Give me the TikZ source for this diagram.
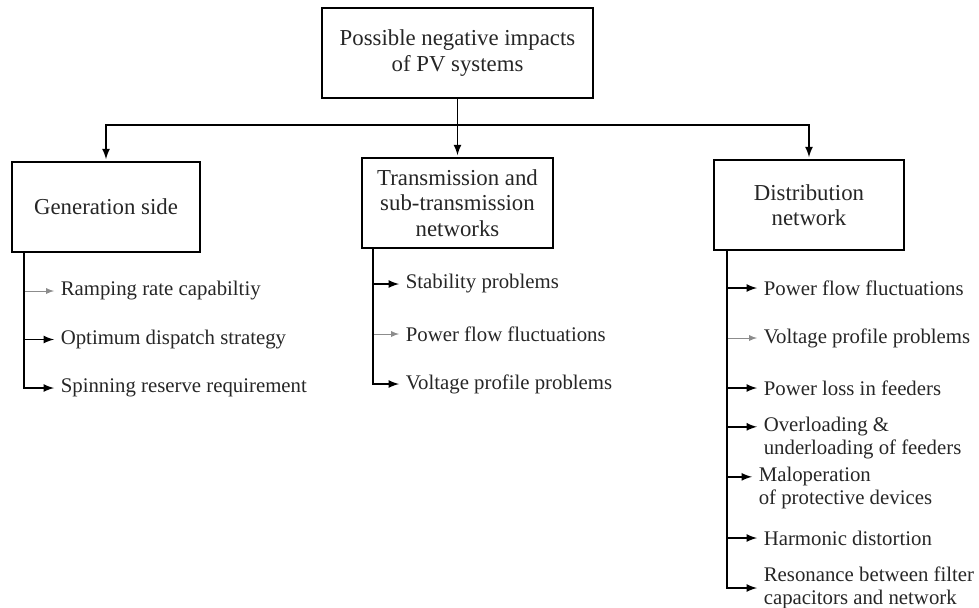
\documentclass[tikz,border=0pt]{standalone}
\usepackage{fontspec}
\setmainfont{Liberation Serif}
\usepackage{tikz}
\usetikzlibrary{positioning,calc}
\tikzstyle{impact} = [rectangle, draw, fill=white, align=center, inner sep=2pt, minimum height=45pt, font=\fontsize{11.4}{12.6}\selectfont]
\tikzstyle{effect} = [align=left, inner sep=2pt, font=\fontsize{10.4}{11.2}\selectfont]
\tikzstyle{faint} = [thin, black!45]

\begin{document}
\begin{tikzpicture}[x=0.5pt,y=-0.5pt,->,>=latex,shorten >=1pt,line width=0.8pt,node distance=25pt,text=black!85]
  \useasboundingbox (0,0) rectangle (979,607);
  \node[impact, minimum width=135.5pt] (PV) at (457.5,53) {Possible negative impacts\\of PV systems};
  \node[impact, minimum width=94pt] (Gen) at (106,207) {Generation side};
  \node[impact, minimum width=95.5pt] (Trans) at (457.5,203) {Transmission and\\sub-transmission\\networks};
  \node[impact, minimum width=95pt] (Dist) at (809,205) {Distribution\\network};
  \coordinate (bus) at ($(PV.south)+(0,26)$);

  % generation side
  \node[effect, anchor=west] (Ramp) at (56,291) {Ramping rate capabiltiy};
  \node[effect, below=24.25pt of Ramp.west, anchor=west] (Dispatch) {Optimum dispatch strategy};
  \node[effect, below=24.25pt of Dispatch.west, anchor=west] (Reserve) {Spinning reserve requirement};

  % transmission
  \node[effect, anchor=west] (Stab) at (401,284) {Stability problems};
  \node[effect, below=of Stab.west, anchor=west] (Flow_T) {Power flow fluctuations};
  \node[effect, below=of Flow_T.west, anchor=west] (Volt_T) {Voltage profile problems};

  % distribution
  \node[effect, anchor=west] (Flow_D) at (759,288) {Power flow fluctuations};
  \node[effect, below=of Flow_D.west, anchor=west] (Volt_D) {Voltage profile problems};
  \node[effect, below=of Volt_D.west, anchor=west] (Loss) {Power loss in feeders};
  \node[effect, below=of Loss.west, anchor=west] (Load) {Overloading \&\\underloading of feeders};
  \node[effect, below=of Load.west, anchor=west, xshift=-2.5pt] (Malop) {Maloperation\\of protective devices};
  \node[effect, below=of Malop.west, anchor=west, xshift=2.5pt] (Harm) {Harmonic distortion};
  \node[effect, below=of Harm.west, anchor=west] (Reson) {Resonance between filter\\capacitors and network};

  \path (PV.south) edge (Trans.north);
  \draw (bus) -| (Gen.north);
  \draw (bus) -| (Dist.north);

  \draw[faint] ([xshift=6.5pt]Gen.south west) |- (Ramp.west);
  \draw ([xshift=6.5pt]Gen.south west) |- (Dispatch.west);
  \draw ([xshift=6.5pt]Gen.south west) |- (Reserve.west);

  \draw[faint] ([xshift=6pt]Trans.south west) |- (Flow_T.west);
  \draw ([xshift=6pt]Trans.south west) |- (Stab.west);
  \draw ([xshift=6pt]Trans.south west) |- (Volt_T.west);

  \draw[faint] ([xshift=7pt]Dist.south west) |- (Volt_D.west);
  \draw ([xshift=7pt]Dist.south west) |- (Flow_D.west);
  \draw ([xshift=7pt]Dist.south west) |- (Loss.west);
  \draw ([xshift=7pt]Dist.south west) |- ($(Load.north west)!.28!(Load.south west)$);
  \draw ([xshift=7pt]Dist.south west) |- ($(Malop.north west)!.28!(Malop.south west)$);
  \draw ([xshift=7pt]Dist.south west) |- (Harm.west);
  \draw ([xshift=7pt]Dist.south west) |- (Reson.west);
\end{tikzpicture}
\end{document}
